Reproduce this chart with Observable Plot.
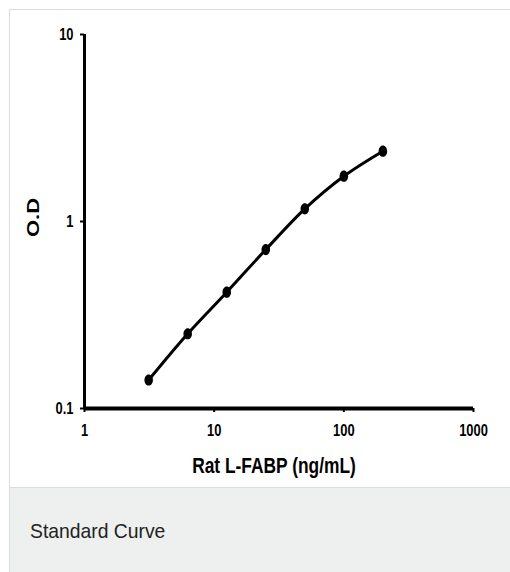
<!DOCTYPE html>
<html>
<head>
<meta charset="utf-8">
<script src="https://cdn.jsdelivr.net/npm/d3@7"></script>
<script src="https://cdn.jsdelivr.net/npm/@observablehq/plot@0.6"></script>
<style>
  html, body { margin: 0; padding: 0; background: #fff; }
  #panel {
    position: absolute; left: 9px; top: 9px; width: 520px;
    border: 1px solid #dcdcdc; background: #fff;
  }
  #chart svg { display: block; }
  #caption {
    background: #eef0ef; border-top: 1px solid #dcdcdc;
    height: 90px; box-sizing: border-box;
    padding: 32px 0 0 20px;
    font-family: "Liberation Sans", Arial, sans-serif;
    font-size: 21px; color: #222; line-height: 1;
  }
  #caption span { display: inline-block; transform: scaleX(0.92); transform-origin: left center; }
</style>
</head>
<body>
<div id="panel">
  <div id="chart"></div>
  <div id="caption"><span>Standard Curve</span></div>
</div>
<script>
const concentration = [3.125, 6.25, 12.5, 25, 50, 100, 200];
const od = [0.142, 0.251, 0.419, 0.708, 1.169, 1.747, 2.377];
const xTicks = [1, 10, 100, 1000];
const yTicks = [0.1, 1, 10];

const data = concentration.map((c, i) => ({c, od: od[i]}));
const font = '"Liberation Sans", Arial, sans-serif';
const squish = 0.76;

// slightly tall elliptical dot, like the reference
const ellipse = {
  draw(context, size) {
    const ry = Math.sqrt(size / Math.PI) * 1.12;
    const rx = ry * squish;
    const k = 0.5523;
    context.moveTo(rx, 0);
    context.bezierCurveTo(rx, k * ry, k * rx, ry, 0, ry);
    context.bezierCurveTo(-k * rx, ry, -rx, k * ry, -rx, 0);
    context.bezierCurveTo(-rx, -k * ry, -k * rx, -ry, 0, -ry);
    context.bezierCurveTo(k * rx, -ry, rx, -k * ry, rx, 0);
    context.closePath();
  }
};

const chart = Plot.plot({
  width: 500,
  height: 477,
  marginLeft: 74,
  marginRight: 37,
  marginTop: 24,
  marginBottom: 79,
  style: {fontFamily: font, fontWeight: "bold", fontSize: "17px", color: "#000", background: "#fff"},
  x: {type: "log", domain: [1, 1000]},
  y: {type: "log", domain: [0.1, 10]},
  marks: [
    Plot.axisX({ticks: xTicks, tickFormat: d => String(d), tickSize: 4, tickPadding: 11, strokeWidth: 2,
      label: "Rat L-FABP (ng/mL)", labelAnchor: "center", labelArrow: "none", labelOffset: 64, fontSize: 17}),
    Plot.axisY({ticks: yTicks, tickFormat: d => String(d), tickSize: 4, tickPadding: 7, strokeWidth: 2,
      label: "O.D", labelAnchor: "center", labelArrow: "none", labelOffset: 57, fontSize: 17}),
    Plot.ruleX([xTicks[0]], {y1: yTicks[0], y2: yTicks[yTicks.length - 1], strokeWidth: 3}),
    Plot.ruleY([yTicks[0]], {x1: xTicks[0], x2: xTicks[xTicks.length - 1], strokeWidth: 4}),
    Plot.line(data, {x: "c", y: "od", curve: "catmull-rom", strokeWidth: 3, stroke: "#000"}),
    Plot.dot(data, {x: "c", y: "od", r: 5, fill: "#000", symbol: ellipse})
  ]
});
document.getElementById("chart").appendChild(chart);

// axis titles larger
chart.querySelectorAll("g[aria-label='x-axis label'] text, g[aria-label='y-axis label'] text").forEach(t => {
  t.setAttribute("font-size", "22");
});
// horizontally condensed lettering, as in the reference
function condense(selector, s, dx = 0, dy = 0) {
  chart.querySelectorAll(selector).forEach(t => {
    const tr = t.getAttribute("transform") || "";
    const m = tr.match(/^translate\(([-\d.e]+),\s*([-\d.e]+)\)(.*)$/);
    if (m) t.setAttribute("transform", `translate(${+m[1] + dx},${+m[2] + dy}) scale(${s},1)${m[3]}`);
    else t.setAttribute("transform", `${tr} translate(${dx},${dy}) scale(${s},1)`);
  });
}
condense("g[aria-label$='tick label'] text", squish);
condense("g[aria-label='x-axis label'] text", 0.79, -5, 0);
condense("g[aria-label='y-axis label'] text", squish, 0, -4);
</script>
</body>
</html>
